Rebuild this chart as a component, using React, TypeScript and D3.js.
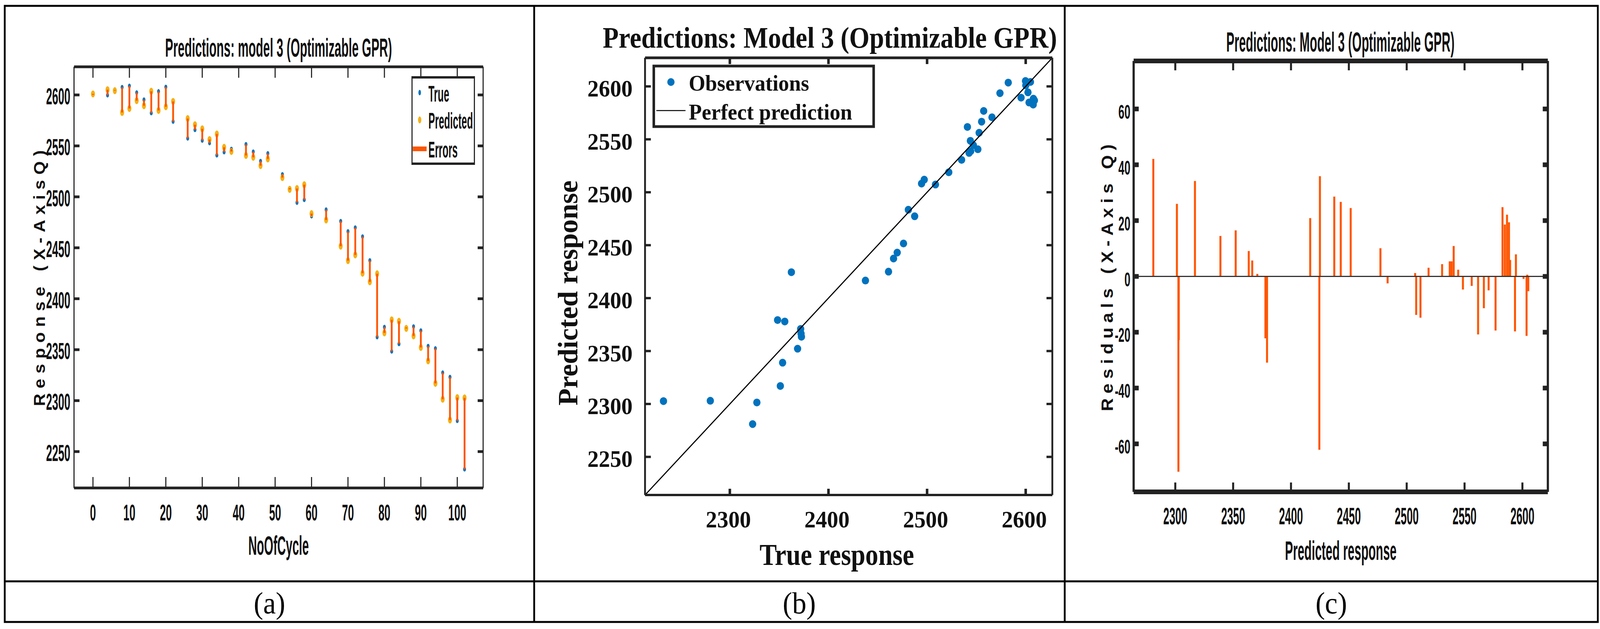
import React from 'react';
import * as d3 from 'd3';

const W = 4388;
const H = 1610;

const SANS = "'Liberation Sans', Arial, sans-serif";
const SERIF = "'Liberation Serif', 'Times New Roman', serif";

const BLUE = '#0072BD';
const GOLD = '#F5B015';
const ERR = '#FF5500';
const AXIS = '#222222';

// validation points
const noOfCycle = [0, 4, 6, 8, 10, 12, 14, 16, 18, 20, 22, 26, 28, 30, 32, 34, 36, 38, 42, 44, 46, 48, 52, 54, 56, 58, 60, 64, 68, 70, 72, 74, 76, 78, 80, 82, 84, 86, 88, 90, 92, 94, 96, 98, 100, 102];
const trueResponse = [2600.1, 2599.8, 2604.8, 2607.6, 2608.8, 2602.3, 2595.3, 2582.3, 2603.4, 2607.8, 2573.9, 2557.4, 2565.8, 2555.3, 2552.8, 2540.9, 2543.9, 2546.9, 2551.5, 2544.2, 2535.0, 2542.6, 2522.0, 2508.5, 2494.4, 2497.1, 2481.0, 2487.4, 2476.1, 2466.0, 2469.7, 2460.9, 2437.5, 2362.4, 2372.2, 2348.4, 2355.7, 2371.8, 2372.6, 2368.7, 2353.5, 2351.2, 2327.4, 2323.1, 2280.2, 2232.7];
const predictedResponse = [2601.0, 2605.1, 2604.2, 2582.8, 2586.7, 2594.4, 2589.4, 2603.6, 2584.8, 2588.4, 2593.6, 2576.8, 2570.8, 2566.7, 2556.2, 2561.7, 2548.6, 2544.5, 2540.6, 2538.8, 2530.6, 2537.2, 2518.9, 2507.3, 2508.2, 2511.9, 2483.5, 2477.3, 2451.6, 2437.4, 2443.0, 2425.0, 2416.6, 2424.5, 2366.5, 2379.3, 2377.9, 2370.9, 2363.5, 2352.2, 2339.0, 2317.0, 2301.4, 2281.0, 2303.0, 2302.7];
const residuals = [-0.9, -5.3, 0.6, 24.8, 22.1, 7.9, 5.9, -21.3, 18.6, 19.4, -19.7, -19.4, -5.0, -11.4, -3.4, -20.8, -4.7, 2.4, 10.9, 5.4, 4.4, 5.4, 3.1, 1.2, -13.8, -14.8, -2.5, 10.1, 24.5, 28.6, 26.7, 35.9, 20.9, -62.1, 5.7, -30.9, -22.2, 0.9, 9.1, 16.5, 14.5, 34.2, 26.0, 42.1, -22.8, -70.0];

// tick labels
const cycleTicks = [0, 10, 20, 30, 40, 50, 60, 70, 80, 90, 100];
const responseTicks = [2250, 2300, 2350, 2400, 2450, 2500, 2550, 2600];
const trueTicks = [2300, 2400, 2500, 2600];
const predTicks = [2300, 2350, 2400, 2450, 2500, 2550, 2600];
const residualTicks = [-60, -40, -20, 0, 20, 40, 60];

const panelLabels = ['(a)', '(b)', '(c)'];

// squeezed text, used for the narrow MATLAB tick labels
function SqText({ x, y, sx, size, anchor, family, children }: any) {
  return (
    <text
      transform={`translate(${x},${y}) scale(${sx},1)`}
      textAnchor={anchor}
      fontSize={size}
      fontFamily={family}
      fontWeight="bold"
      fill="#111"
    >
      {children}
    </text>
  );
}

function PanelA() {
  const x = d3.scaleLinear().domain([-5.2, 107.1]).range([203, 1325]);
  const y = d3.scaleLinear().domain([2214.3, 2627.6]).range([1249, 171]);
  const [left, right] = x.range();
  const top = y.range()[1];
  const bottom = y.range()[0];

  return (
    <g>
      <text x={764} y={145} textAnchor="middle" fontFamily={SANS} fontWeight="bold" fontSize={67}
        textLength={622} lengthAdjust="spacingAndGlyphs" fill="#111">
        Predictions: model 3 (Optimizable GPR)
      </text>

      {/* markers: true, predicted, then error segments on top */}
      {noOfCycle.map((c, i) => (
        <ellipse key={'t' + i} cx={x(c)} cy={y(trueResponse[i])} rx={4} ry={6} fill={BLUE} />
      ))}
      {noOfCycle.map((c, i) => (
        <ellipse key={'p' + i} cx={x(c)} cy={y(predictedResponse[i])} rx={5.5} ry={9} fill={GOLD} />
      ))}
      {noOfCycle.map((c, i) => (
        <line key={'e' + i} x1={x(c)} x2={x(c)} y1={y(trueResponse[i])} y2={y(predictedResponse[i])}
          stroke={ERR} strokeWidth={5} />
      ))}

      {/* box */}
      <line x1={left} x2={right} y1={top} y2={top} stroke={AXIS} strokeWidth={7} />
      <line x1={left} x2={right} y1={bottom} y2={bottom} stroke={AXIS} strokeWidth={7} />
      <line x1={left} x2={left} y1={top} y2={bottom} stroke={AXIS} strokeWidth={3} />
      <line x1={right} x2={right} y1={top} y2={bottom} stroke={AXIS} strokeWidth={3} />

      {cycleTicks.map((t) => (
        <g key={'xt' + t}>
          <line x1={x(t)} x2={x(t)} y1={top} y2={top + 28} stroke={AXIS} strokeWidth={3} />
          <line x1={x(t)} x2={x(t)} y1={bottom} y2={bottom - 28} stroke={AXIS} strokeWidth={3} />
          <SqText x={x(t)} y={1332} sx={0.52} size={57} anchor="middle" family={SANS}>{t}</SqText>
        </g>
      ))}
      {responseTicks.map((t) => (
        <g key={'yt' + t}>
          <line x1={left} x2={left + 15} y1={y(t)} y2={y(t)} stroke={AXIS} strokeWidth={7} />
          <line x1={right} x2={right - 15} y1={y(t)} y2={y(t)} stroke={AXIS} strokeWidth={7} />
          <SqText x={193} y={y(t) + 24} sx={0.5} size={60} anchor="end" family={SANS}>{t}</SqText>
        </g>
      ))}

      <text x={764} y={1420} textAnchor="middle" fontFamily={SANS} fontWeight="bold" fontSize={68}
        textLength={166} lengthAdjust="spacingAndGlyphs" fill="#111">NoOfCycle</text>
      <text transform="translate(123,712) rotate(-90)" textAnchor="middle" fontFamily={SANS} fontWeight="bold"
        fontSize={44} textLength={655} lengthAdjust="spacing" fill="#111">Response (X-AxisQ)</text>

      {/* legend */}
      <rect x={1129} y={195} width={173} height={227} fill="#fff" />
      <line x1={1129} x2={1302} y1={198} y2={198} stroke={AXIS} strokeWidth={6} />
      <line x1={1129} x2={1302} y1={419} y2={419} stroke={AXIS} strokeWidth={6} />
      <line x1={1130} x2={1130} y1={195} y2={422} stroke={AXIS} strokeWidth={3} />
      <line x1={1301} x2={1301} y1={195} y2={422} stroke={AXIS} strokeWidth={3} />
      <ellipse cx={1151} cy={237} rx={3.5} ry={7} fill={BLUE} />
      <ellipse cx={1151} cy={307} rx={4.5} ry={9} fill={GOLD} />
      <line x1={1132} x2={1170} y1={381} y2={381} stroke={ERR} strokeWidth={12} />
      <text x={1175} y={260} fontFamily={SANS} fontWeight="bold" fontSize={57} textLength={57}
        lengthAdjust="spacingAndGlyphs" fill="#111">True</text>
      <text x={1175} y={329} fontFamily={SANS} fontWeight="bold" fontSize={57} textLength={122}
        lengthAdjust="spacingAndGlyphs" fill="#111">Predicted</text>
      <text x={1175} y={403} fontFamily={SANS} fontWeight="bold" fontSize={57} textLength={80}
        lengthAdjust="spacingAndGlyphs" fill="#111">Errors</text>
    </g>
  );
}

function PanelB() {
  const x = d3.scaleLinear().domain([2214, 2627]).range([1769, 2886]);
  const y = d3.scaleLinear().domain([2214, 2627]).range([1267, 148]);
  const [left, right] = x.range();
  const top = y.range()[1];
  const bottom = y.range()[0];
  const diag = d3.line<number>().x((d) => x(d)).y((d) => y(d));

  return (
    <g>
      <text x={2276} y={122} textAnchor="middle" fontFamily={SERIF} fontWeight="bold" fontSize={77}
        textLength={1246} lengthAdjust="spacingAndGlyphs" fill="#111">
        Predictions: Model 3 (Optimizable GPR)
      </text>

      {trueResponse.map((t, i) => (
        <circle key={'o' + i} cx={x(t)} cy={y(predictedResponse[i])} r={10} fill={BLUE} />
      ))}
      <path d={diag(x.domain()) || ''} stroke="#000" strokeWidth={3} fill="none" />

      <line x1={left} x2={right} y1={top} y2={top} stroke={AXIS} strokeWidth={7} />
      <line x1={left} x2={right} y1={bottom} y2={bottom} stroke={AXIS} strokeWidth={6} />
      <line x1={left} x2={left} y1={top} y2={bottom} stroke={AXIS} strokeWidth={5} />
      <line x1={right} x2={right} y1={top} y2={bottom} stroke={AXIS} strokeWidth={5} />

      {trueTicks.map((t) => (
        <g key={'bx' + t}>
          <line x1={x(t)} x2={x(t)} y1={top} y2={top + 16} stroke={AXIS} strokeWidth={7} />
          <line x1={x(t)} x2={x(t)} y1={bottom} y2={bottom - 16} stroke={AXIS} strokeWidth={7} />
          <text x={x(t) - 4} y={1350} textAnchor="middle" fontFamily={SERIF} fontWeight="bold"
            fontSize={62} fill="#111">{t}</text>
        </g>
      ))}
      {responseTicks.map((t) => (
        <g key={'by' + t}>
          <line x1={left} x2={left + 16} y1={y(t)} y2={y(t)} stroke={AXIS} strokeWidth={6} />
          <line x1={right} x2={right - 16} y1={y(t)} y2={y(t)} stroke={AXIS} strokeWidth={6} />
          <text x={1735} y={y(t) + 26} textAnchor="end" fontFamily={SERIF} fontWeight="bold"
            fontSize={62} fill="#111">{t}</text>
        </g>
      ))}

      <text x={2295} y={1446} textAnchor="middle" fontFamily={SERIF} fontWeight="bold" fontSize={78}
        textLength={424} lengthAdjust="spacingAndGlyphs" fill="#111">True response</text>
      <text transform="translate(1583,750) rotate(-90)" textAnchor="middle" fontFamily={SERIF} fontWeight="bold"
        fontSize={78} textLength={576} lengthAdjust="spacingAndGlyphs" fill="#111">Predicted response</text>

      {/* legend */}
      <rect x={1793} y={169} width={603} height={155} fill="#fff" stroke={AXIS} strokeWidth={7} />
      <circle cx={1840} cy={210} r={10} fill={BLUE} />
      <line x1={1800} x2={1880} y1={283} y2={283} stroke="#000" strokeWidth={2.5} />
      <text x={1889} y={232} fontFamily={SERIF} fontWeight="bold" fontSize={56} textLength={330}
        lengthAdjust="spacingAndGlyphs" fill="#111">Observations</text>
      <text x={1889} y={306} fontFamily={SERIF} fontWeight="bold" fontSize={56} textLength={448}
        lengthAdjust="spacingAndGlyphs" fill="#111">Perfect prediction</text>
    </g>
  );
}

function PanelC() {
  const x = d3.scaleLinear().domain([2264, 2622]).range([3109, 4245]);
  const y = d3.scaleLinear().domain([-77.2, 77.2]).range([1259, 156]);
  const [left, right] = x.range();
  const top = y.range()[1];
  const bottom = y.range()[0];

  return (
    <g>
      <text x={3676} y={132} textAnchor="middle" fontFamily={SANS} fontWeight="bold" fontSize={70}
        textLength={626} lengthAdjust="spacingAndGlyphs" fill="#111">
        Predictions: Model 3 (Optimizable GPR)
      </text>

      {predictedResponse.map((p, i) => (
        <line key={'r' + i} x1={x(p)} x2={x(p)} y1={y(0)} y2={y(residuals[i])} stroke={ERR} strokeWidth={5.5} />
      ))}
      <line x1={left} x2={right} y1={y(0)} y2={y(0)} stroke="#333" strokeWidth={3} />

      <line x1={left} x2={right} y1={top} y2={top} stroke={AXIS} strokeWidth={12} />
      <line x1={left} x2={right} y1={bottom} y2={bottom} stroke={AXIS} strokeWidth={12} />
      <line x1={left} x2={left} y1={top} y2={bottom} stroke={AXIS} strokeWidth={6} />
      <line x1={right} x2={right} y1={top} y2={bottom} stroke={AXIS} strokeWidth={6} />

      {predTicks.map((t) => (
        <g key={'cx' + t}>
          <line x1={x(t)} x2={x(t)} y1={top} y2={top + 24} stroke={AXIS} strokeWidth={5.5} />
          <line x1={x(t)} x2={x(t)} y1={bottom} y2={bottom - 24} stroke={AXIS} strokeWidth={5.5} />
          <SqText x={x(t)} y={1342} sx={0.485} size={61} anchor="middle" family={SANS}>{t}</SqText>
        </g>
      ))}
      {residualTicks.map((t) => (
        <g key={'cy' + t}>
          <line x1={left} x2={left + 14} y1={y(t)} y2={y(t)} stroke={AXIS} strokeWidth={12} />
          <line x1={right} x2={right - 14} y1={y(t)} y2={y(t)} stroke={AXIS} strokeWidth={12} />
          <SqText x={3100} y={y(t) + 25} sx={0.59} size={50} anchor="end" family={SANS}>{t}</SqText>
        </g>
      ))}

      <text x={3677} y={1433} textAnchor="middle" fontFamily={SANS} fontWeight="bold" fontSize={68}
        textLength={306} lengthAdjust="spacingAndGlyphs" fill="#111">Predicted response</text>
      <text transform="translate(3052,711) rotate(-90)" textAnchor="middle" fontFamily={SANS} fontWeight="bold"
        fontSize={46} textLength={683} lengthAdjust="spacing" fill="#111">Residuals (X-Axis Q)</text>
    </g>
  );
}

export default function App() {
  const colCenters = [739, 2192, 3651];
  // fill the whole window, whatever its css size turns out to be
  return (
    <svg viewBox={`0 0 ${W} ${H}`} preserveAspectRatio="none"
      style={{ position: 'fixed', left: 0, top: 0, width: '100vw', height: '100vh', display: 'block', background: '#fff' }}>
      <rect x={0} y={0} width={W} height={H} fill="#fff" />

      <PanelA />
      <PanelB />
      <PanelC />

      {/* table frame */}
      <rect x={13} y={15} width={4369} height={1577} fill="none" stroke="#000" strokeWidth={5} />
      <line x1={1465} x2={1465} y1={15} y2={1592} stroke="#000" strokeWidth={5} />
      <line x1={2920} x2={2920} y1={15} y2={1592} stroke="#000" strokeWidth={5} />
      <line x1={13} x2={4382} y1={1488} y2={1488} stroke="#000" strokeWidth={5} />
      {panelLabels.map((l, i) => (
        <text key={l} x={colCenters[i]} y={1570} textAnchor="middle" fontFamily={SERIF} fontSize={78} fill="#000">
          {l}
        </text>
      ))}
    </svg>
  );
}
